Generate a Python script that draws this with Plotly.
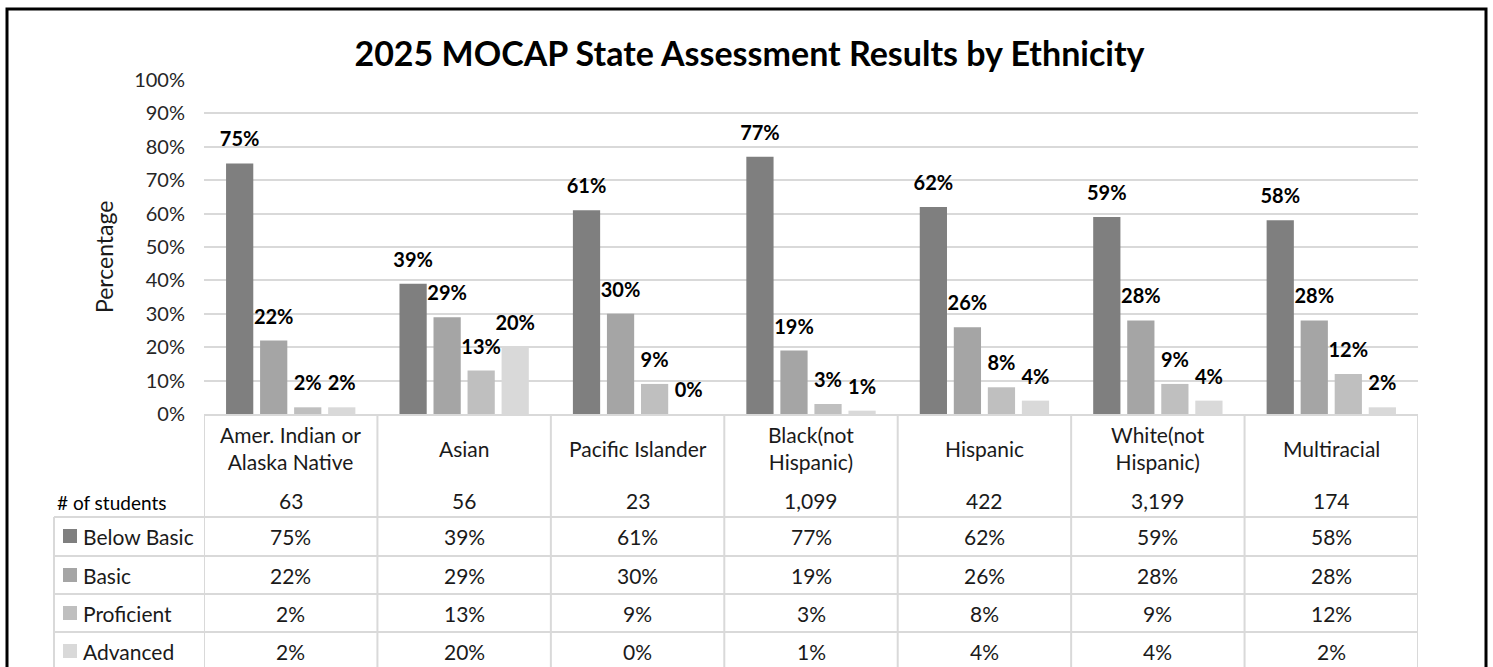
import plotly.graph_objects as go

categories = ["Amer. Indian or<br>Alaska Native", "Asian", "Pacific Islander",
              "Black(not<br>Hispanic)", "Hispanic", "White(not<br>Hispanic)", "Multiracial"]
students = ["63", "56", "23", "1,099", "422", "3,199", "174"]
below_basic = [75, 39, 61, 77, 62, 59, 58]
basic = [22, 29, 30, 19, 26, 28, 28]
proficient = [2, 13, 9, 3, 8, 9, 12]
advanced = [2, 20, 0, 1, 4, 4, 2]
series_names = ["Below Basic", "Basic", "Proficient", "Advanced"]
series_vals = [below_basic, basic, proficient, advanced]
colors = ["#7f7f7f", "#a5a5a5", "#bfbfbf", "#d9d9d9"]
y_ticks = list(range(0, 101, 10))

W, H = 1493, 667
L, R, T, B = 204, 1418, 80, 414
FONT = "Lato"
LABEL_PAD = 3  # visual gap (in axis units) between bar top and its value label


def px(x):
    return (x - L) / (R - L)


def py(y):
    return (B - y) / (B - T)


xs = list(range(len(categories)))
fig = go.Figure()
for name, vals, col in zip(series_names, series_vals, colors):
    fig.add_trace(go.Bar(
        x=xs, y=vals, name=name, marker=dict(color=col, line=dict(width=0)),
        offsetgroup=name, showlegend=False, cliponaxis=False,
    ))
    # transparent spacer bar carrying the value label above each bar
    fig.add_trace(go.Bar(
        x=xs, y=[LABEL_PAD] * len(vals), base=vals, offsetgroup=name,
        marker=dict(color="rgba(0,0,0,0)", line=dict(width=0)),
        showlegend=False, hoverinfo="skip",
        text=[f"{v}%" for v in vals], textposition="outside",
        textfont=dict(family=FONT, size=20, color="black", weight="bold"),
        constraintext="none", cliponaxis=False,
    ))

shapes = []
line = dict(color="#d9d9d9", width=2)
for i in range(len(categories) + 1):
    shapes.append(dict(type="line", xref="x", yref="paper", x0=i - 0.5, x1=i - 0.5,
                       y0=0, y1=py(700), line=line, layer="above"))
shapes.append(dict(type="line", xref="paper", yref="paper", x0=px(54), x1=px(54),
                   y0=py(517), y1=py(700), line=line))
for yy in [517, 556, 594, 632]:
    shapes.append(dict(type="line", xref="paper", yref="paper", x0=px(54), x1=1,
                       y0=py(yy), y1=py(yy), line=line))
shapes.append(dict(type="rect", xref="paper", yref="paper", x0=px(7), x1=px(1486),
                   y0=py(700), y1=py(9), line=dict(color="black", width=3)))

annotations = []
tfont = dict(family=FONT, size=21, color="#1a1a1a")
for i, c in enumerate(categories):
    annotations.append(dict(x=i, xref="x", y=py(448), yref="paper", text=c, showarrow=False,
                            font=tfont, xanchor="center", yanchor="middle"))
    annotations.append(dict(x=i, xref="x", y=py(501), yref="paper", text=students[i], showarrow=False,
                            font=tfont, xanchor="center", yanchor="middle"))
row_y = [536, 575, 613, 651]
for name, vals, col, yy in zip(series_names, series_vals, colors, row_y):
    for i, v in enumerate(vals):
        annotations.append(dict(x=i, xref="x", y=py(yy), yref="paper", text=f"{v}%", showarrow=False,
                                font=tfont, xanchor="center", yanchor="middle"))
    annotations.append(dict(x=px(81), xref="paper", y=py(yy), yref="paper", text=name, showarrow=False,
                            font=tfont, xanchor="left", yanchor="middle"))
    shapes.append(dict(type="rect", xref="paper", yref="paper", x0=px(63), x1=px(77),
                       y0=py(yy + 7), y1=py(yy - 7), fillcolor=col, line=dict(width=0)))
annotations.append(dict(x=px(55), xref="paper", y=py(502), yref="paper", text="# of students",
                        showarrow=False, font=dict(family=FONT, size=19, color="black"),
                        xanchor="left", yanchor="middle"))
annotations.append(dict(x=px(104), xref="paper", y=py(257), yref="paper", text="Percentage",
                        showarrow=False, textangle=-90,
                        font=dict(family=FONT, size=23, color="#1a1a1a"),
                        xanchor="center", yanchor="middle"))

fig.update_layout(
    width=W, height=H,
    margin=dict(l=L, r=W - R, t=T, b=H - B),
    paper_bgcolor="white", plot_bgcolor="white",
    barmode="group", bargap=0.215, bargroupgap=0.2,
    title=dict(text="<b>2025 MOCAP State Assessment Results by Ethnicity</b>",
               x=0.502, xanchor="center", xref="container",
               y=1 - 54 / H, yanchor="middle", yref="container",
               font=dict(family=FONT, size=34, color="black")),
    xaxis=dict(range=[-0.5, len(categories) - 0.5], showticklabels=False, showgrid=False,
               zeroline=False, showline=True, linecolor="#d9d9d9", linewidth=2, ticks=""),
    yaxis=dict(range=[0, 100], tickvals=y_ticks, ticktext=[f"{t}%" for t in y_ticks],
               showgrid=True, gridcolor="#d9d9d9", gridwidth=2, zeroline=False,
               tickfont=dict(family=FONT, size=20, color="#262626"),
               ticklabelstandoff=18, showline=False, ticks=""),
    shapes=shapes, annotations=annotations,
)
fig.write_html("out.html", config={"displayModeBar": False},
               post_script="document.body.style.margin='0';")
